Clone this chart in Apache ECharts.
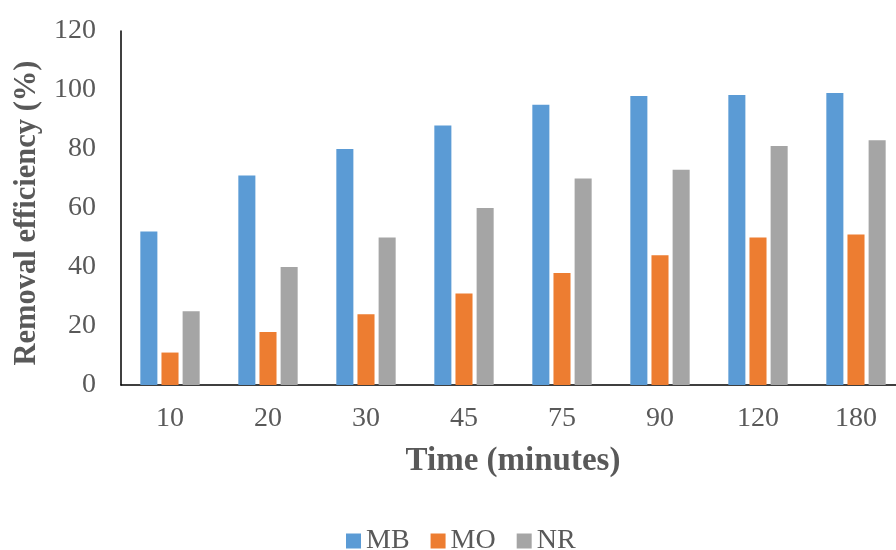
<!DOCTYPE html>
<html>
<head>
<meta charset="utf-8">
<script src="https://cdn.jsdelivr.net/npm/echarts@6/dist/echarts.min.js"></script>
<style>
  html, body { margin: 0; padding: 0; background: #fff; }
  #chart { width: 896px; height: 550px; }
</style>
</head>
<body>
<div id="chart"></div>
<script>
// Removal efficiency of three dyes over contact time
const categories = ['10', '20', '30', '45', '75', '90', '120', '180'];
const seriesNames = ['MB', 'MO', 'NR'];
const mbValues = [52, 71, 80, 88, 95, 98, 98.3, 99];
const moValues = [11, 18, 24, 31, 38, 44, 50, 51];
const nrValues = [25, 40, 50, 60, 70, 73, 81, 83];
const colors = ['#5B9BD5', '#ED7D31', '#A5A5A5'];

const FONT = '"Liberation Serif", "Times New Roman", serif';
const TEXT = '#595959';

const chart = echarts.init(document.getElementById('chart'), null, { renderer: 'canvas' });

const valuesList = [mbValues, moValues, nrValues];
const series = seriesNames.map((name, i) => ({
  name: name,
  type: 'bar',
  data: valuesList[i],
  barWidth: '17.4%',
  barGap: '24%',
  itemStyle: { color: colors[i] },
  emphasis: { disabled: true }
}));

chart.setOption({
  animation: false,
  color: colors,
  grid: {
    left: 121, right: -9, top: 31, bottom: 165,
    containLabel: false,
    outerBoundsMode: 'none'
  },
  legend: {
    data: seriesNames,
    top: 522,
    left: 341,
    itemWidth: 15,
    itemHeight: 15,
    itemGap: 21,
    icon: 'rect',
    textStyle: { fontFamily: FONT, fontSize: 28, color: TEXT }
  },
  xAxis: {
    type: 'category',
    data: categories,
    name: 'Time (minutes)',
    nameLocation: 'middle',
    nameGap: 60,
    nameTextStyle: { fontFamily: FONT, fontSize: 33, fontWeight: 'bold', color: TEXT },
    axisLine: { lineStyle: { color: '#000', width: 1.5 } },
    axisTick: { show: false },
    axisLabel: { fontFamily: FONT, fontSize: 28, color: TEXT, margin: 20 },
    splitLine: { show: false }
  },
  yAxis: {
    type: 'value',
    min: 0,
    max: 120,
    interval: 20,
    name: 'Removal efficiency (%)',
    nameLocation: 'middle',
    nameGap: 74,
    nameTextStyle: {
      fontFamily: FONT, fontSize: 30.5, fontWeight: 'bold', color: TEXT,
      padding: [0, 10, 0, 0]
    },
    axisLine: { show: true, lineStyle: { color: '#000', width: 1.5 } },
    axisTick: { show: false },
    axisLabel: { fontFamily: FONT, fontSize: 28, color: TEXT, margin: 25 },
    splitLine: { show: false }
  },
  series: series
});
</script>
</body>
</html>
